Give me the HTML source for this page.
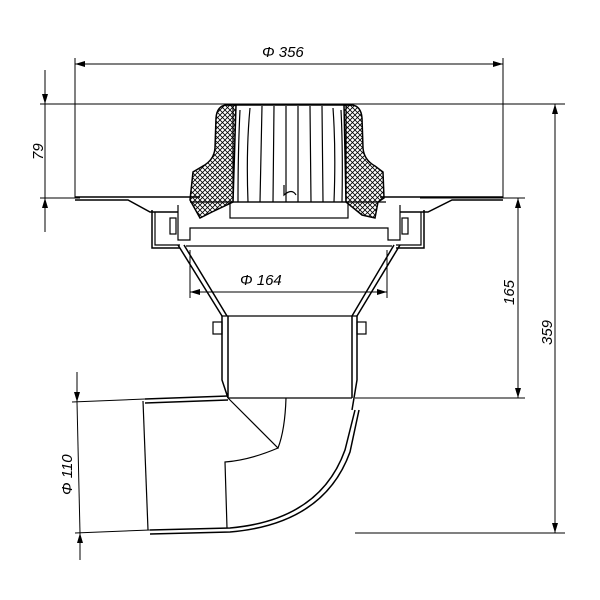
<!DOCTYPE html>
<html><head><style>body{margin:0;background:#fff}svg{display:block}</style></head><body>
<svg width="600" height="600" viewBox="0 0 600 600" xmlns="http://www.w3.org/2000/svg" font-family="Liberation Sans, sans-serif">
<defs>
<pattern id="x" width="5" height="5" patternUnits="userSpaceOnUse"><path d="M0 0L5 5M5 0L0 5" stroke="#000" stroke-width="0.8"/></pattern>
<pattern id="d" width="6" height="3" patternUnits="userSpaceOnUse"><rect width="6" height="3" fill="#fff"/><rect x="1" y="0.5" width="3" height="2" fill="#000"/></pattern>
<marker id="a" viewBox="0 0 10 6" refX="10" refY="3" markerWidth="10" markerHeight="6" orient="auto-start-reverse" markerUnits="userSpaceOnUse"><path d="M0 0L10 3L0 6z" fill="#000"/></marker>
</defs>
<g stroke="#000" fill="none" stroke-width="1">
<line x1="75" y1="58" x2="75" y2="198"/><line x1="503" y1="58" x2="503" y2="198"/>
<line x1="75" y1="64" x2="503" y2="64" marker-start="url(#a)" marker-end="url(#a)"/>
<line x1="40" y1="104" x2="565" y2="104"/>
<line x1="40" y1="198" x2="80" y2="198"/>
<line x1="45" y1="70" x2="45" y2="104" marker-end="url(#a)"/>
<line x1="45" y1="232" x2="45" y2="198" marker-end="url(#a)"/>
<line x1="45" y1="104" x2="45" y2="198"/>
<line x1="420" y1="198" x2="525" y2="198"/><line x1="355" y1="398" x2="525" y2="398"/>
<line x1="518" y1="198" x2="518" y2="398" marker-start="url(#a)" marker-end="url(#a)"/>
<line x1="355" y1="533" x2="565" y2="533"/>
<line x1="555" y1="104" x2="555" y2="533" marker-start="url(#a)" marker-end="url(#a)"/>
<line x1="72" y1="402" x2="145" y2="399"/><line x1="75" y1="533" x2="150" y2="530"/>
<line x1="77" y1="372" x2="77" y2="402" marker-end="url(#a)"/>
<line x1="80" y1="560" x2="80" y2="533" marker-end="url(#a)"/>
<line x1="77" y1="402" x2="80" y2="533"/>
<line x1="190" y1="250" x2="190" y2="298"/><line x1="387" y1="250" x2="387" y2="298"/>
<line x1="190" y1="292" x2="387" y2="292" marker-start="url(#a)" marker-end="url(#a)"/>
</g>
<!-- dome sides -->
<path d="M236 105 L226 105 Q217 106 216 118 L215 148 Q214 160 203 166 L193 172 L190 200 L200 218 L212 212 L233 202 Z" fill="url(#x)" stroke="#000" stroke-width="1.5"/>
<path d="M344 105 L352 105 Q361 106 362 118 L363 148 Q364 160 375 166 L383 172 L384 198 L378 202 L375 218 L362 215 L346 202 Z" fill="url(#x)" stroke="#000" stroke-width="1.5"/>
<g stroke="#000" fill="none" stroke-width="1.2">
<line x1="226" y1="105" x2="352" y2="105" stroke-width="1.5"/>
<path d="M233 106 L233 202 M346 106 L346 202"/>
<path d="M240 110 Q238 150 238 202M250 108 Q246 150 248 202M262 106 L260 202M274 106 L273 202M286 106 L286 202M298 106 L298 202M310 106 L311 202M322 106 L323 202M333 108 Q336 150 334 202M341 110 Q343 150 342 202"/>
<path d="M284 185 L284 195 Q292 188 296 195"/>
<rect x="230" y="202" width="118" height="16"/>
<line x1="190" y1="202" x2="386" y2="202"/>
<path d="M75 197 L200 197 M75 200 L128 200 L150 212 L178 212" stroke-width="1.5"/>
<path d="M503 197 L380 197 M503 200 L452 200 L428 212 L400 212" stroke-width="1.5"/>
<path d="M152 210 L152 248 L180 248 M424 210 L424 248 L396 248" stroke-width="1.5"/>
<path d="M155 212 L155 245 L180 245 M421 212 L421 245 L396 245"/>
<rect x="170" y="218" width="6" height="16"/><rect x="402" y="218" width="6" height="16"/>
<path d="M178 205 L178 240 L190 240 L190 228 L388 228 L388 240 L400 240 L400 205"/>
<line x1="186" y1="246" x2="392" y2="246"/>
<path d="M178 245 L222 316 M184 245 L227 316 M400 245 L357 316 M394 245 L352 316" stroke-width="1.5"/>
<line x1="222" y1="316" x2="357" y2="316"/>
<path d="M222 316 L222 380 L228 398 M228 316 L228 398 M357 316 L357 380 L352 410 M352 316 L352 398" stroke-width="1.5"/>
<rect x="213" y="322" width="9" height="12"/><rect x="357" y="322" width="9" height="12"/>
<line x1="228" y1="398" x2="352" y2="398"/>
<path d="M145 399 L228 396 M145 403 L228 400" stroke-width="1.5"/>
<line x1="143" y1="401" x2="148" y2="530"/>
<path d="M150 530 L230 528 Q320 520 345 450 L355 410 M150 534 L230 532 Q324 524 350 452 L359 410" stroke-width="1.5"/>
<path d="M228 398 L278 448 Q285 430 286 398"/>
<path d="M278 448 Q250 460 225 462 L227 528"/>
</g>
<g font-size="15" font-style="italic" fill="#000">
<text x="262" y="57">Φ 356</text>
<text x="240" y="285">Φ 164</text>
<text transform="translate(43,160) rotate(-90)">79</text>
<text transform="translate(514,305) rotate(-90)">165</text>
<text transform="translate(552,345) rotate(-90)">359</text>
<text transform="translate(72,495) rotate(-90)">Φ 110</text>
</g>
</svg>
</body></html>
